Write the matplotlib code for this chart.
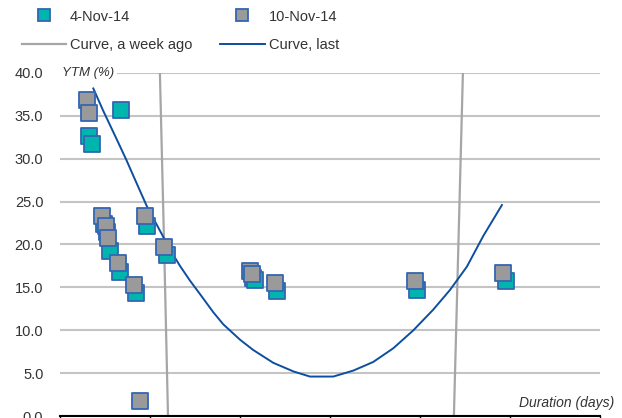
import matplotlib
matplotlib.use("Agg")
import matplotlib.pyplot as plt
from matplotlib.lines import Line2D

plt.rcParams['font.family'] = ['Liberation Sans', 'DejaVu Sans']

# bond points: duration (days), YTM (%)
dur_nov4 = [98, 108, 202, 146, 155, 167, 200, 253, 291, 356, 643, 650, 724, 1191, 1487]
ytm_nov4 = [32.7, 31.7, 35.7, 22.4, 21.4, 19.3, 16.8, 14.4, 22.1, 18.8, 16.1, 15.9, 14.6, 14.7, 15.7]
dur_nov10 = [89, 98, 141, 152, 161, 194, 247, 283, 347, 267, 634, 640, 717, 1183, 1478]
ytm_nov10 = [36.8, 35.3, 23.3, 22.1, 20.8, 17.8, 15.3, 23.3, 19.7, 1.8, 16.9, 16.6, 15.5, 15.7, 16.7]

# fitted curves
curve_last_x = [111, 144, 167, 194, 222, 256, 289, 344, 367, 400, 433, 467, 511, 544, 600, 644,
                711, 778, 833, 911, 978, 1044, 1111, 1178, 1244, 1300, 1356, 1411, 1473]
curve_last_y = [38.2, 35.6, 33.9, 31.9, 29.8, 27.1, 24.5, 20.9, 19.4, 17.5, 15.8, 14.2, 12.1, 10.7, 8.9, 7.7,
                6.2, 5.2, 4.6, 4.6, 5.3, 6.3, 7.9, 10.0, 12.4, 14.7, 17.4, 21.0, 24.6]
curve_week_x = [325, 333, 347, 360, 372, 836, 1300, 1313, 1328, 1343, 1352]
curve_week_y = [52, 40, 20, 0, -17, -325, -17, 0, 20, 40, 52]

teal = '#00b5ad'
grey = '#9a9a9a'
edge = '#3466b2'
blue = '#0d4ea0'
wgrey = '#a6a6a6'
txt = '#333333'

W, H = 622, 418
fig = plt.figure(figsize=(6.22, 4.18), dpi=100)
ax = fig.add_axes([60 / W, 2 / H, 540 / W, 343 / H])

ax.plot(curve_week_x, curve_week_y, color=wgrey, lw=1.6, zorder=2)
ax.plot(curve_last_x, curve_last_y, color=blue, lw=1.4, zorder=3)
ax.scatter(dur_nov4, ytm_nov4, marker='s', s=125, c=teal, edgecolors=edge, linewidths=1.3, zorder=4)
ax.scatter(dur_nov10, ytm_nov10, marker='s', s=125, c=grey, edgecolors=edge, linewidths=1.3, zorder=5)

ax.set_xlim(0, 1800)
ax.set_ylim(0, 40)
ax.set_yticks([0, 5, 10, 15, 20, 25, 30, 35, 40])
ax.set_yticklabels(['%.1f' % v for v in [0, 5, 10, 15, 20, 25, 30, 35, 40]])
ax.set_xticks([0, 300, 600, 900, 1200, 1500, 1800])
ax.set_xticklabels([])
ax.tick_params(axis='y', length=0, pad=12, labelsize=10.5, labelcolor=txt)
ax.tick_params(axis='x', length=4, width=1, direction='out')
ax.grid(axis='y', color='#c4c4c4', lw=1.5)
ax.set_axisbelow(True)
for s in ['top', 'right', 'left']:
    ax.spines[s].set_visible(False)
ax.spines['bottom'].set_linewidth(1.5)
ax.spines['bottom'].set_zorder(6)

ax.text(0.004, 1.0, 'YTM (%)', transform=ax.transAxes, ha='left', va='center',
        fontsize=9.5, style='italic', color=txt,
        bbox=dict(facecolor='white', edgecolor='none', pad=2))
fig.text(614 / W, 1 - 403 / H, 'Duration (days)', ha='right', va='center',
         fontsize=10, style='italic', color=txt)

# legend, laid out by hand in figure pixels
def fx(px):
    return px / W

def fy(py):
    return 1 - py / H

fig.add_artist(Line2D([fx(44)], [fy(15)], ls='none', marker='s', ms=8, mfc=teal, mec=edge, mew=1.3))
fig.add_artist(Line2D([fx(242)], [fy(15)], ls='none', marker='s', ms=8, mfc=grey, mec=edge, mew=1.3))
fig.add_artist(Line2D([fx(22), fx(66)], [fy(44), fy(44)], color=wgrey, lw=1.6))
fig.add_artist(Line2D([fx(220), fx(265)], [fy(44), fy(44)], color=blue, lw=1.4))
fig.text(fx(70), fy(17), '4-Nov-14', ha='left', va='center', fontsize=10.5, color=txt)
fig.text(fx(269), fy(17), '10-Nov-14', ha='left', va='center', fontsize=10.5, color=txt)
fig.text(fx(70), fy(45), 'Curve, a week ago', ha='left', va='center', fontsize=10.5, color=txt)
fig.text(fx(269), fy(45), 'Curve, last', ha='left', va='center', fontsize=10.5, color=txt)

fig.savefig('out.png', dpi=100)
